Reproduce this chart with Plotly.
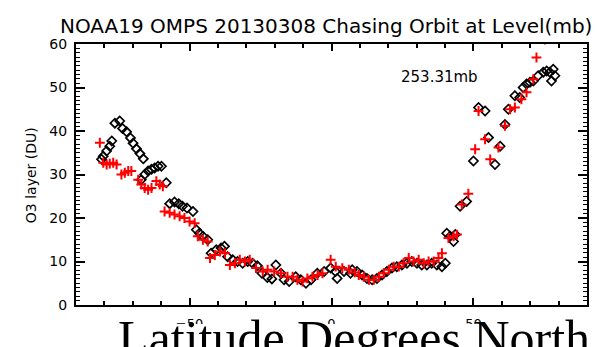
import plotly.graph_objects as go

# Chasing-orbit ozone layer at 253.31 mb, OMPS vs. NOAA19 collocation
lat_omps = [-81.0, -80.4, -79.2, -78.1, -77.4, -76.3, -74.6, -73.6, -72.2, -70.8,
            -69.9, -68.7, -67.5, -66.3, -67.0, -65.8, -64.6, -63.4, -62.3, -61.1,
            -59.9, -58.2, -57.0, -55.3, -53.8, -52.5, -50.9, -48.8, -47.6, -46.5,
            -45.3, -43.6, -42.4, -40.6, -38.9, -37.7, -36.6, -34.8, -33.1, -31.3,
            -29.5, -27.8, -26.1, -24.5, -22.6, -21.0, -19.6, -17.8, -16.7, -14.9,
            -12.6, -10.8, -9.0, -7.2, -5.0, -2.6, -0.3, 1.4, 2.0, 4.4,
            6.7, 7.3, 9.0, 10.8, 12.5, 14.3, 16.0, 17.8, 19.5, 21.3,
            23.0, 24.8, 26.6, 28.3, 30.1, 31.8, 33.6, 35.3, 37.1, 38.9,
            40.1, 40.6, 41.8, 43.0, 43.6, 45.3, 47.6, 50.0, 51.8, 54.1,
            55.3, 57.6, 59.4, 61.1, 62.3, 64.6, 66.3, 67.5, 68.7, 69.9,
            71.1, 72.8, 74.6, 75.8, 76.9, 77.5, 78.1, 78.7]
o3_omps = [33.5, 34.2, 35.4, 36.5, 37.7, 41.8, 42.3, 40.6, 39.8, 38.4,
           37.2, 35.9, 34.8, 33.6, 28.8, 30.0, 30.8, 31.2, 31.5, 31.9,
           31.9, 28.1, 23.3, 23.7, 23.3, 22.7, 22.3, 21.5, 17.3, 16.5,
           15.8, 15.0, 11.9, 12.7, 13.1, 13.5, 11.1, 10.4, 10.0, 9.6,
           10.0, 9.6, 9.0, 7.3, 6.3, 6.0, 9.2, 7.3, 5.8, 5.4,
           6.5, 5.8, 5.0, 5.8, 7.3, 7.7, 8.5, 7.7, 6.1, 7.7,
           7.3, 8.1, 7.7, 6.9, 6.1, 5.8, 6.1, 6.9, 7.7, 8.5,
           8.8, 9.2, 9.6, 10.0, 9.6, 9.2, 9.2, 9.6, 9.2, 8.8,
           9.6, 16.5, 15.8, 14.6, 16.2, 22.7, 23.8, 33.1, 45.4, 44.6,
           38.5, 32.3, 36.5, 41.5, 45.0, 48.1, 47.7, 50.0, 50.8, 51.2,
           51.5, 52.7, 53.5, 53.8, 53.5, 51.5, 54.2, 52.7]

lat_noaa = [-81.6, -80.4, -79.2, -78.1, -76.9, -75.7, -74.0, -72.8, -71.6, -70.5,
            -68.1, -67.0, -65.8, -64.6, -63.4, -61.7, -60.5, -59.4, -58.8, -57.0,
            -55.3, -53.5, -51.8, -50.0, -48.2, -47.1, -45.3, -43.6, -42.8, -41.1,
            -39.3, -37.5, -35.8, -34.0, -32.3, -30.5, -28.8, -26.6, -24.2, -22.5,
            -20.2, -17.8, -15.5, -13.7, -12.0, -10.2, -8.5, -6.7, -4.9, -3.2,
            -0.3, 1.5, 3.8, 6.1, 8.2, 9.6, 11.4, 13.2, 14.9, 16.7,
            18.4, 20.2, 21.9, 23.7, 25.4, 27.2, 28.9, 30.7, 32.5, 34.2,
            36.0, 37.7, 38.9, 41.2, 43.0, 44.2, 45.9, 48.2, 50.6, 51.8,
            54.1, 55.9, 58.8, 61.1, 62.9, 64.6, 66.9, 68.7, 71.1, 72.2,
            75.2, 79.6]
o3_noaa = [37.3, 32.7, 32.3, 32.5, 32.7, 32.3, 30.0, 30.4, 30.8, 30.8,
           28.8, 27.7, 26.9, 26.5, 26.9, 28.5, 27.7, 27.3, 21.5, 21.2,
           20.8, 20.4, 20.0, 19.2, 18.8, 15.8, 15.0, 14.6, 10.8, 11.5,
           12.3, 11.9, 9.2, 9.6, 10.4, 10.0, 10.4, 8.5, 7.7, 8.1,
           7.7, 7.3, 6.5, 6.5, 5.8, 5.4, 6.1, 6.5, 6.9, 7.3,
           10.4, 8.8, 8.5, 8.1, 7.5, 6.9, 6.5, 5.8, 5.8, 6.5,
           7.3, 8.1, 8.8, 8.8, 9.6, 10.8, 10.0, 10.4, 9.6, 10.0,
           10.0, 10.8, 11.9, 15.4, 15.8, 16.2, 23.1, 25.6, 35.8, 44.6,
           38.1, 33.5, 36.2, 41.2, 45.0, 45.4, 47.3, 48.9, 51.9, 56.9,
           61.0, 61.5]

title_text = "NOAA19 OMPS 20130308 Chasing Orbit at Level(mb)"
level_text = "253.31mb"
ytitle_text = "O3 layer (DU)"
xtitle_text = "Latitude Degrees North"

W, H = 597, 347
PL, PR, PT, PB = 76, 589, 44, 305  # plot area in pixels


def px(x):
    return (x - PL) / (PR - PL)


def py(y):
    return (PB - y) / (PB - PT)


FONT = "DejaVu Sans"

fig = go.Figure()
fig.add_trace(go.Scatter(
    x=lat_omps, y=o3_omps, mode="markers",
    marker=dict(symbol="diamond-open", size=7, color="black",
                line=dict(color="black", width=1.7)),
    showlegend=False))
fig.add_trace(go.Scatter(
    x=lat_noaa, y=o3_noaa, mode="markers",
    marker=dict(symbol="cross-thin-open", size=7, color="red",
                line=dict(color="red", width=2)),
    showlegend=False))

fig.update_layout(
    width=W, height=H,
    margin=dict(l=PL, r=W - PR, t=PT, b=H - PB, pad=0),
    paper_bgcolor="white", plot_bgcolor="white",
    font=dict(family=FONT, color="black"),
    xaxis=dict(range=[-90, 90], tickmode="linear", tick0=0, dtick=50,
               ticks="inside", ticklen=7, tickwidth=1.5, tickcolor="black",
               minor=dict(dtick=10, tick0=0, ticks="inside", ticklen=4,
                          tickwidth=1.5, tickcolor="black", showgrid=False),
               showline=True, linecolor="black", linewidth=2, mirror="ticks",
               showgrid=False, zeroline=False,
               tickfont=dict(size=13, family=FONT, color="black"),
               ticklabelstandoff=5),
    yaxis=dict(range=[0, 60], tickmode="linear", tick0=0, dtick=10,
               ticks="inside", ticklen=9, tickwidth=1.5, tickcolor="black",
               minor=dict(dtick=1, tick0=0, ticks="inside", ticklen=4,
                          tickwidth=1, tickcolor="black", showgrid=False),
               showline=True, linecolor="black", linewidth=2, mirror="ticks",
               showgrid=False, zeroline=False,
               tickfont=dict(size=14, family=FONT, color="black"),
               ticklabelstandoff=4),
)

# white band over the lower part of the x tick labels
fig.add_shape(type="rect", xref="paper", yref="paper",
              x0=px(-5), x1=px(W + 5), y0=py(H + 5), y1=py(324),
              fillcolor="white", line=dict(width=0), layer="above")

fig.add_annotation(text=title_text, xref="paper", yref="paper",
                   x=px(327), y=py(26), xanchor="center", yanchor="middle",
                   showarrow=False, font=dict(size=20, family=FONT, color="black"))
fig.add_annotation(text=level_text, xref="paper", yref="paper",
                   x=px(400), y=py(77), xanchor="left", yanchor="middle",
                   showarrow=False, font=dict(size=15, family=FONT, color="black"))
fig.add_annotation(text=ytitle_text, xref="paper", yref="paper",
                   x=px(31), y=py(175), xanchor="center", yanchor="middle",
                   textangle=-90, showarrow=False,
                   font=dict(size=14, family=FONT, color="black"))
fig.add_annotation(text=xtitle_text, xref="paper", yref="paper",
                   x=px(116), y=py(338), xanchor="left", yanchor="middle",
                   showarrow=False,
                   font=dict(size=50, family="Liberation Serif", color="black"))

fig.write_html("out.html")
